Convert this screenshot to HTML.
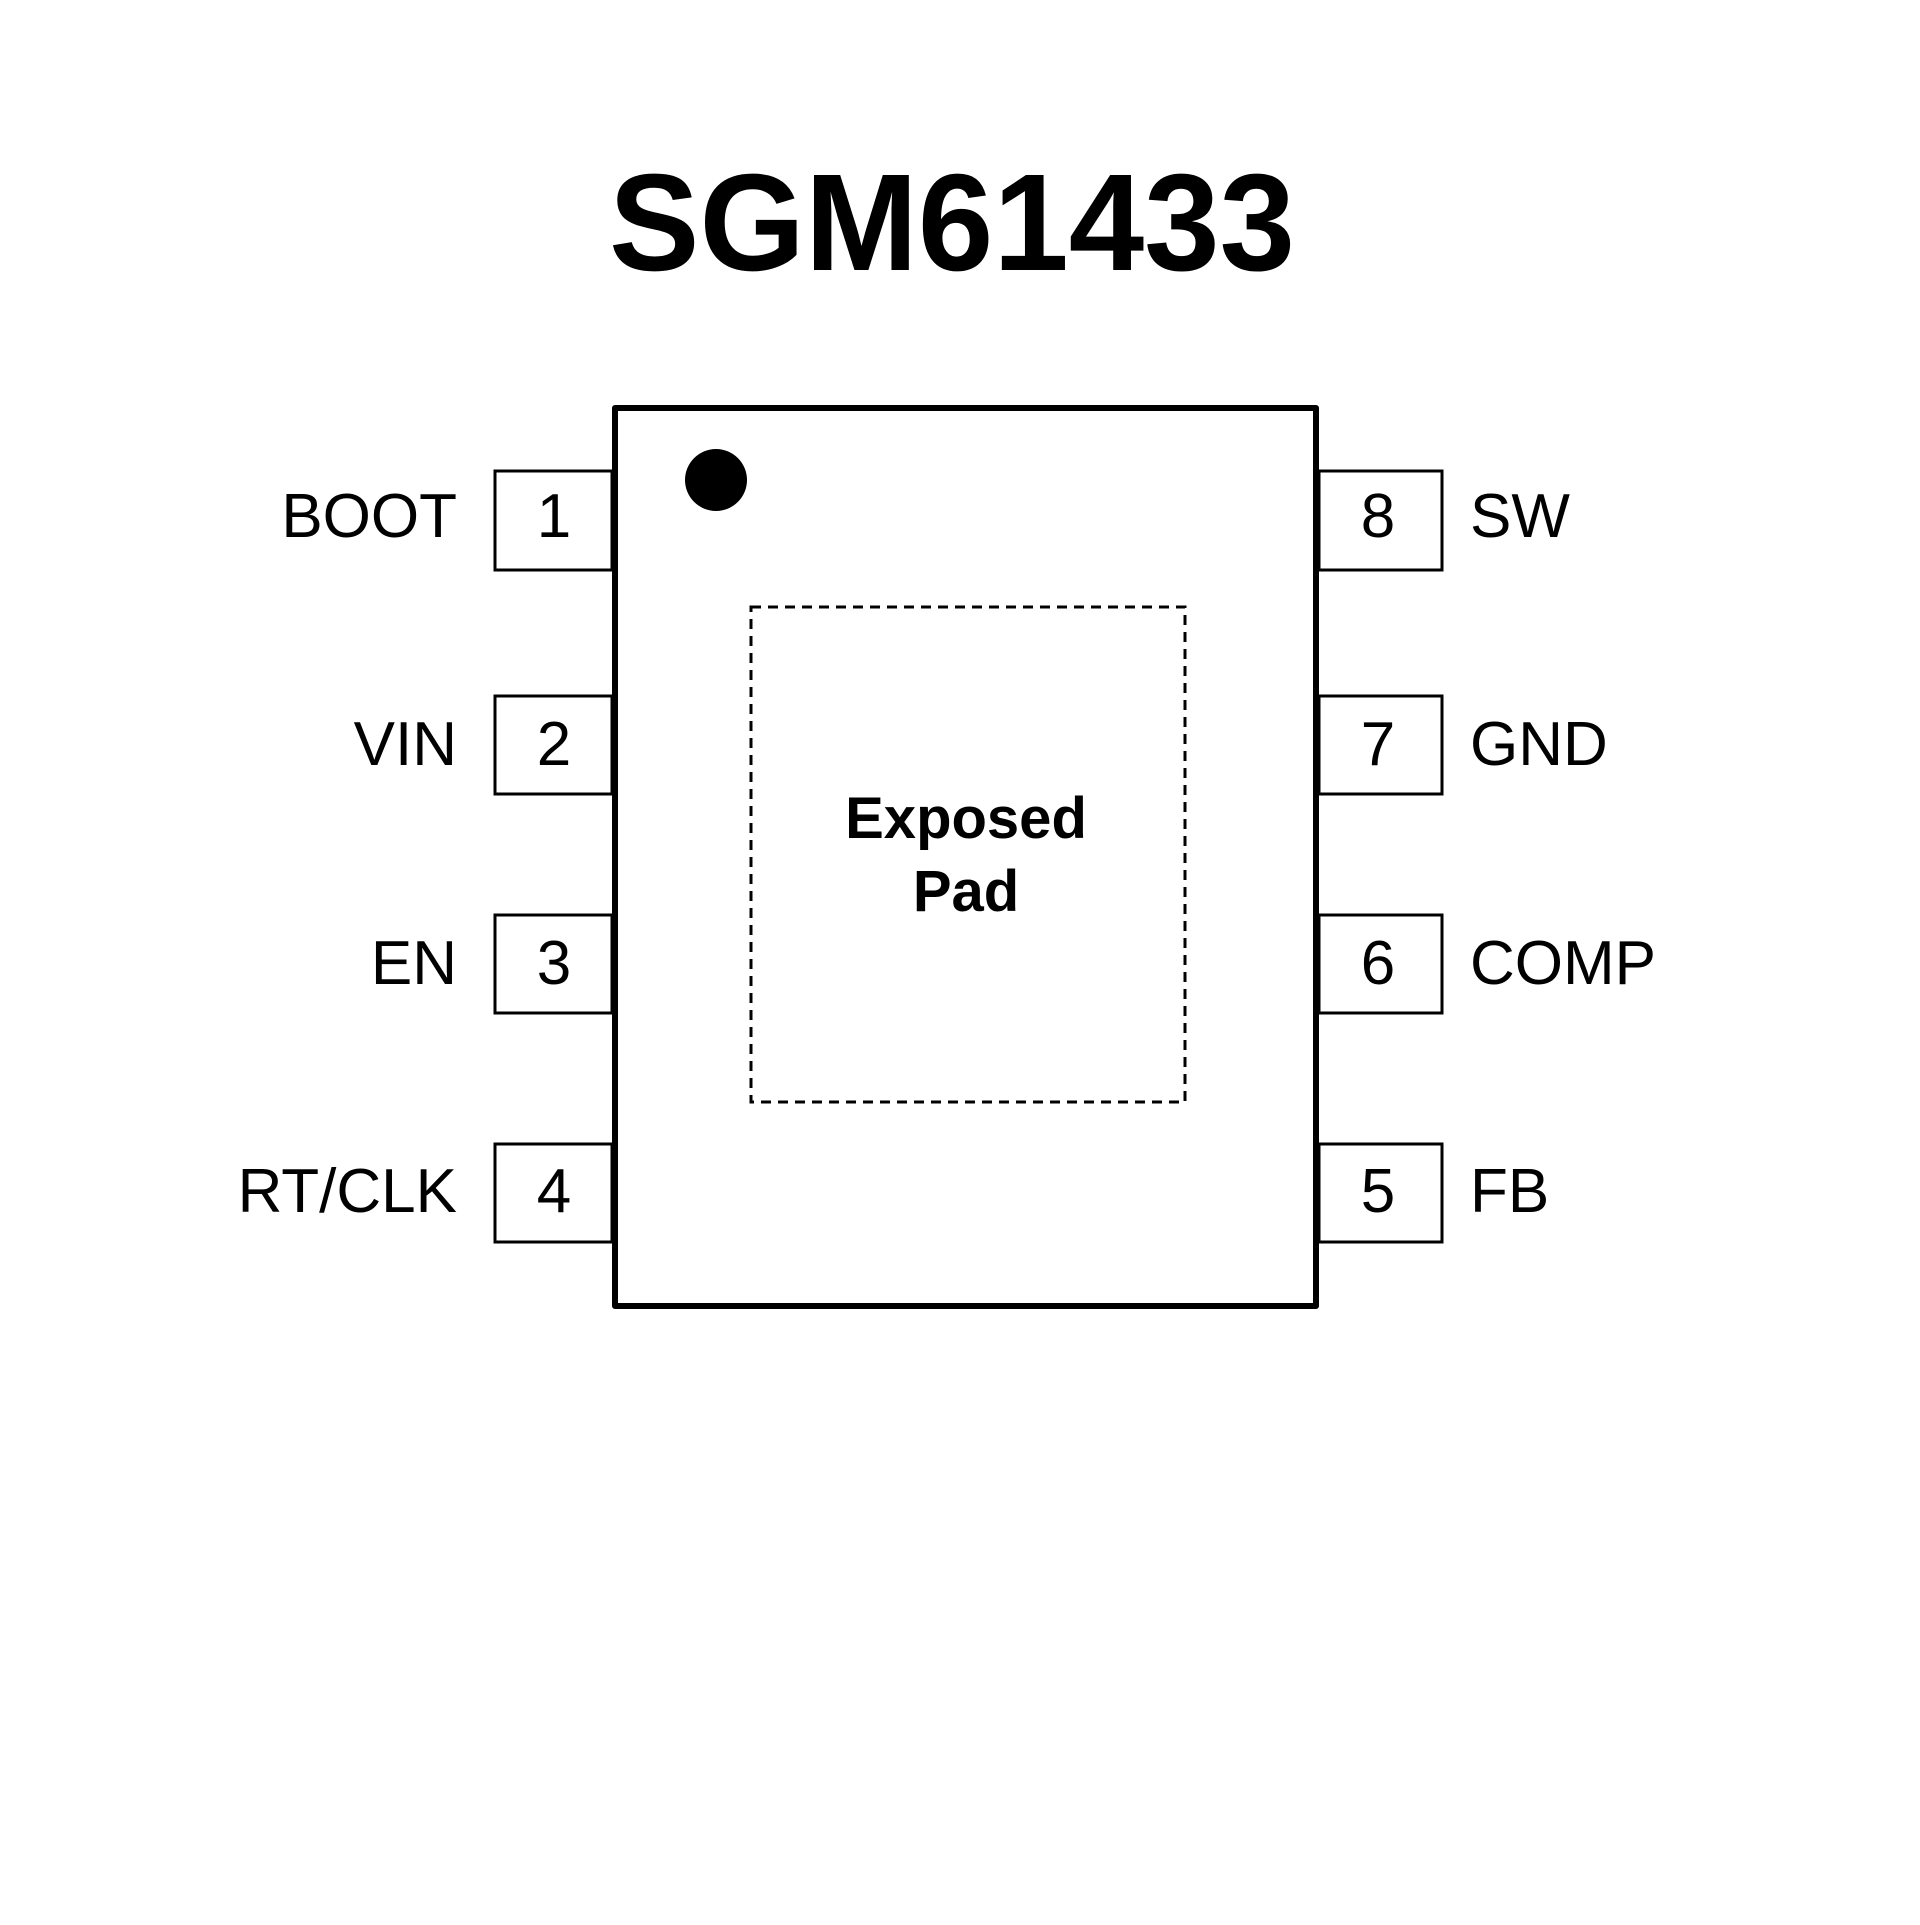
<!DOCTYPE html>
<html><head><meta charset="utf-8"><style>html,body{margin:0;padding:0;background:#fff}</style></head>
<body>
<svg width="1920" height="1920" viewBox="0 0 1920 1920" xmlns="http://www.w3.org/2000/svg">
<rect width="1920" height="1920" fill="#fff"/>
<text x="952" y="270" font-family="Liberation Sans, sans-serif" font-weight="bold" font-size="138" text-anchor="middle" textLength="686" lengthAdjust="spacingAndGlyphs">SGM61433</text>
<g transform="translate(3,2)">
<g fill="#fff" stroke="#000" stroke-width="3">
<rect x="492" y="469" width="117" height="99"/>
<rect x="492" y="694" width="117" height="98"/>
<rect x="492" y="913" width="117" height="98"/>
<rect x="492" y="1142" width="117" height="98"/>
<rect x="1316" y="469" width="123" height="99"/>
<rect x="1316" y="694" width="123" height="98"/>
<rect x="1316" y="913" width="123" height="98"/>
<rect x="1316" y="1142" width="123" height="98"/>
</g>
<rect x="612" y="406" width="701" height="898" fill="#fff" stroke="#000" stroke-width="6" stroke-linejoin="round"/>
<circle cx="713" cy="478" r="31" fill="#000"/>
<rect x="748" y="605" width="434" height="495" fill="none" stroke="#000" stroke-width="3" stroke-dasharray="10,7"/>
<g font-family="Liberation Sans, sans-serif" font-weight="bold" font-size="58" text-anchor="middle">
<text x="963" y="836">Exposed</text>
<text x="963" y="909">Pad</text>
</g>
<g font-family="Liberation Sans, sans-serif" font-size="62">
<g text-anchor="end">
<text x="454" y="535">BOOT</text>
<text x="454" y="763">VIN</text>
<text x="454" y="982">EN</text>
<text x="454" y="1210">RT/CLK</text>
</g>
<g text-anchor="middle">
<text x="551" y="535">1</text>
<text x="551" y="763">2</text>
<text x="551" y="982">3</text>
<text x="551" y="1210">4</text>
<text x="1375" y="535">8</text>
<text x="1375" y="763">7</text>
<text x="1375" y="982">6</text>
<text x="1375" y="1210">5</text>
</g>
<text x="1467" y="535">SW</text>
<text x="1467" y="763">GND</text>
<text x="1467" y="982">COMP</text>
<text x="1467" y="1210">FB</text>
</g>
</g>
</svg>
</body></html>
